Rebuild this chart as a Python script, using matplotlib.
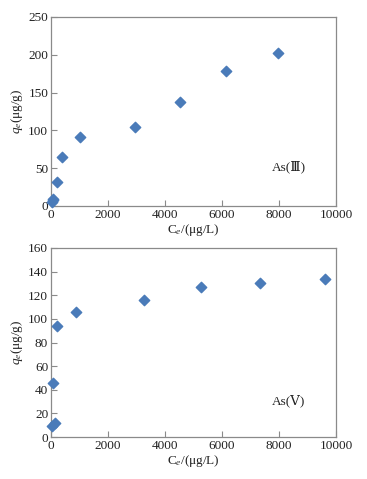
import matplotlib
matplotlib.use("Agg")
import matplotlib.pyplot as plt

plt.rcParams['font.family'] = ['Liberation Serif', 'DejaVu Serif', 'Noto Sans CJK SC']
plt.rcParams['mathtext.fontset'] = 'custom'
plt.rcParams['mathtext.it'] = 'Liberation Serif:italic'
plt.rcParams['mathtext.rm'] = 'Liberation Serif'

ce3 = [20, 60, 80, 199, 374, 1029, 2936, 4526, 6140, 7977]
qe3 = [5.7, 8, 9.5, 32, 65, 91.4, 104, 138, 179, 203]
ce5 = [47, 140, 82, 199, 877, 3263, 5251, 7333, 9614]
qe5 = [9.3, 12.2, 45.9, 94.0, 105.6, 116.1, 127.2, 130.6, 133.7]

color = '#4a7bb9'
spine = '#8a8a8a'

fig = plt.figure(figsize=(3.67, 4.79), dpi=100)
W, H = 367, 479
ax1 = fig.add_axes([51/W, 1-206/H, 285/W, 189/H])
ax2 = fig.add_axes([51/W, 1-437/H, 285/W, 189/H])

def style(ax, ylim, yticks, label, ty):
    ax.set_xlim(0, 10000)
    ax.set_xticks([0, 2000, 4000, 6000, 8000, 10000])
    ax.set_ylim(*ylim)
    ax.set_yticks(yticks)
    for s in ax.spines.values():
        s.set_color(spine)
        s.set_linewidth(0.9)
    ax.tick_params(direction='in', length=4, width=0.8, color=spine,
                   labelsize=9.5, pad=2, labelcolor='#222222')
    ax.set_xlabel('C$_e$/(μg/L)', fontsize=9.5, labelpad=1, color='#222222')
    ax.set_ylabel('$q_e$(μg/g)', fontsize=9.5, labelpad=2, color='#222222')
    ax.text(0.835, ty, label, transform=ax.transAxes,
            ha='center', va='center', fontsize=9.5, color='#222222')

ax1.scatter(ce3, qe3, marker='D', s=28, color=color, zorder=3, clip_on=False)
style(ax1, (0, 250), [0, 50, 100, 150, 200, 250], 'As(Ⅲ)', 0.205)

ax2.scatter(ce5, qe5, marker='D', s=28, color=color, zorder=3, clip_on=False)
style(ax2, (0, 160), [0, 20, 40, 60, 80, 100, 120, 140, 160], 'As(Ⅴ)', 0.19)

fig.savefig('out.png', dpi=100)
